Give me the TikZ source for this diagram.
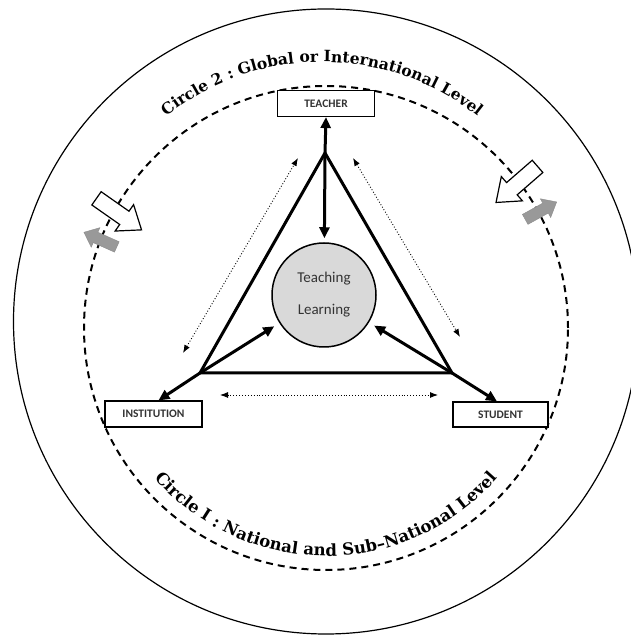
\documentclass[tikz,border=0pt]{standalone}
\usepackage{fontspec}
\setmainfont{Carlito}
\newfontfamily\arcfont{DejaVu Serif}
\usetikzlibrary{arrows.meta,shapes.arrows,decorations.text}

\tikzset{
    role/.style={draw, line width=1.2pt, fill=white, inner sep=0pt,
        minimum width=97pt, minimum height=26pt,
        font=\fontsize{11.5}{12}\selectfont\bfseries, text=black!80},
    edge/.style={line width=3pt, line join=miter},
    link/.style={line width=3pt, -{Triangle[length=11pt,width=10pt]}},
    mutual/.style={line width=0.9pt, dotted,
        {Latex[length=8pt,width=6pt]}-{Latex[length=8pt,width=6pt]}},
    inflow/.style={single arrow, draw, line width=1.2pt, fill=white,
        inner xsep=0pt, inner ysep=7.5pt, single arrow head extend=8pt,
        single arrow tip angle=75, minimum height=55pt, anchor=tail},
    outflow/.style={single arrow, draw=black!45, fill=black!40,
        inner xsep=0pt, inner ysep=5.5pt, single arrow head extend=5pt,
        single arrow tip angle=80, minimum height=36pt, anchor=tail},
    arcline/.style 2 args={decoration={text along path, text align=center,
        text={|\arcfont\bfseries\fontsize{#1}{16}\selectfont|#2}}, postaction={decorate}}
}

\begin{document}
\begin{tikzpicture}[x=1pt, y=1pt]
    \useasboundingbox (0,0) rectangle (631,637);
    % Outer and dashed circles
    \coordinate (rim) at (326,315.5);
    \coordinate (ctr) at (326,309);
    \coordinate (ctrTop) at (322,325);
    \draw[line width=1.2pt] (rim) circle[radius=312.5];
    \draw[line width=2pt, dash pattern=on 7pt off 5pt] (ctr) circle[radius=242];
    % Circle labels
    \path[arcline={15.5}{Circle 2 : Global or International Level}]
        (ctrTop) ++(145:250) arc[start angle=145, end angle=35, radius=250];
    \path[arcline={16.5}{Circle I : National and Sub–National Level}]
        (ctr) ++(205:228) arc[start angle=205, end angle=335, radius=228];
    % Flows between the circles
    \node[inflow, rotate=-35] (inL) at (96,439) {};
    \node[outflow, rotate=156] (outL) at (117,390) {};
    \node[inflow, rotate=221] (inR) at (538,471) {};
    \node[outflow, rotate=29] (outR) at (525,417.5) {};
    % Triangle
    \coordinate (apexT) at (325,484);
    \coordinate (cornerL) at (200,264);
    \coordinate (cornerR) at (452,264);
    \draw[edge] (apexT) -- (cornerL) -- (cornerR) -- cycle;
    % Core and roles
    \node[circle, draw, line width=1.5pt, fill=black!15, minimum size=104pt,
        align=center, font=\fontsize{15}{15}\selectfont, text=black!80]
        (core) at (324,342) {Teaching\\[17pt]Learning};
    \node[role] (teacher) at (326,533.5) {TEACHER};
    \node[role] (institution) at (153.5,223) {INSTITUTION};
    \node[role, minimum width=95pt, minimum height=25pt] (student) at (500.5,222.5) {STUDENT};
    % Links
    \draw[link] (apexT) -- (teacher.south);
    \draw[link, shorten >=4pt] (apexT) -- (core);
    \draw[link, shorten >=6pt] (cornerL) -- (core);
    \draw[link, shorten >=6pt] (cornerR) -- (core);
    \draw[link] (cornerL) -- (institution.70);
    \draw[link] (cornerR) -- (student.105);
    % Mutual relations
    \coordinate (dl1) at (183,284);
    \coordinate (dl2) at (298,479);
    \coordinate (dr1) at (353,479);
    \coordinate (dr2) at (460,300);
    \coordinate (db1) at (220,242);
    \coordinate (db2) at (438,242);
    \draw[mutual] (dl1) -- (dl2);
    \draw[mutual] (dr1) -- (dr2);
    \draw[mutual] (db1) -- (db2);
\end{tikzpicture}
\end{document}
